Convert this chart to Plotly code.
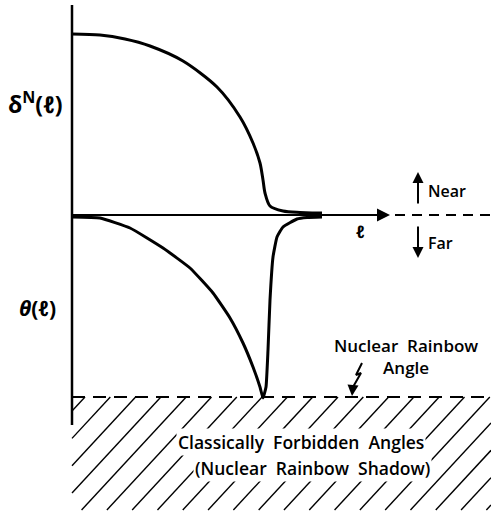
import plotly.graph_objects as go

# Nuclear phase shift delta^N(l) (upper half) and deflection angle theta(l)
# (lower half, drawn downward) against angular momentum l, in arbitrary units.
ell_delta = [0, 28, 53, 78, 111, 145, 168, 181, 188, 191, 193, 198, 211, 228, 240, 250]
delta_n   = [181, 180, 176, 169, 154, 128, 98, 72, 52, 35, 22, 9, 4, 2.5, 2, 2]

ell_theta = [0, 28, 58, 91, 118, 141, 158, 171, 181, 188, 191,
             194, 196, 198, 201, 205, 211, 225, 235, 250]
theta     = [-2, -3, -13, -33, -53, -78, -103, -128, -152, -172, -183,
             -172, -135, -85, -42, -22, -12, -4, -2.5, -2]

rainbow_angle = -182          # level of the nuclear rainbow angle
ell_axis_end = 318            # tip of the l-axis arrow
ell_max = 419
v_top, v_bottom = 210, -210   # extent of the vertical axis
hatch_bottom = -295
hatch_spacing = 25.3
hatch_first = 13              # l where the first hatch line meets the rainbow line
hatch_slope = 1.08

INK = "black"
FONT = "Open Sans"

fig = go.Figure()

# hatched "forbidden" region below the rainbow angle
hx, hy = [], []
height = rainbow_angle - hatch_bottom
k = -20
while True:
    x_top = hatch_first + k * hatch_spacing
    x_bot = x_top - height / hatch_slope
    if x_bot > ell_max:
        break
    x0, y0, x1, y1 = x_bot, hatch_bottom, x_top, rainbow_angle
    if x1 >= 0:
        if x0 < 0:
            y0 = y0 + (0 - x0) * hatch_slope
            x0 = 0
        if x1 > ell_max:
            y1 = y1 - (x1 - ell_max) * hatch_slope
            x1 = ell_max
        hx += [x0, x1, None]
        hy += [y0, y1, None]
    k += 1
fig.add_trace(go.Scatter(x=hx, y=hy, mode="lines",
                         line=dict(color=INK, width=1.4), hoverinfo="skip"))

# vertical axis
fig.add_trace(go.Scatter(x=[0, 0], y=[v_top, v_bottom], mode="lines",
                         line=dict(color=INK, width=2.5)))
# l axis, then dashed continuation
fig.add_trace(go.Scatter(x=[0, ell_axis_end - 8], y=[0, 0], mode="lines",
                         line=dict(color=INK, width=2.2)))
fig.add_trace(go.Scatter(x=[323, ell_max], y=[0, 0], mode="lines",
                         line=dict(color=INK, width=2, dash="10px,7px")))
# nuclear rainbow angle (dashed)
fig.add_trace(go.Scatter(x=[0, ell_max], y=[rainbow_angle, rainbow_angle], mode="lines",
                         line=dict(color=INK, width=2, dash="13px,8px")))

# curves
fig.add_trace(go.Scatter(x=ell_delta, y=delta_n, mode="lines",
                         line=dict(color=INK, width=3, shape="spline", smoothing=0.8)))
fig.add_trace(go.Scatter(x=ell_theta, y=theta, mode="lines",
                         line=dict(color=INK, width=3, shape="spline", smoothing=0.4)))

# lightning arrow pointing at the rainbow angle
fig.add_trace(go.Scatter(x=[290, 284, 289, 281], y=[-148, -160, -158, -172], mode="lines",
                         line=dict(color=INK, width=2)))

ann = []
def arrow(x, y, ax, ay, size=1.1):
    ann.append(dict(x=x, y=y, ax=ax, ay=ay, xref="x", yref="y", axref="x", ayref="y",
                    text="", showarrow=True, arrowhead=2, arrowsize=size,
                    arrowwidth=2, arrowcolor=INK))

arrow(ell_axis_end, 0, 290, 0, size=1.3)
arrow(280, -181, 281, -170)
arrow(346, 43, 346, 10)
arrow(346, -43, 346, -10)

def label(x, y, text, size=16, bg=None, xanchor="center", weight=600):
    d = dict(x=x, y=y, xref="x", yref="y", text=text, showarrow=False,
             xanchor=xanchor, yanchor="middle",
             font=dict(family=FONT, size=size, color=INK, weight=weight))
    if bg:
        d["bgcolor"] = bg
    ann.append(d)

label(-37, 112, "<b>δ<sup>N</sup>(<i>ℓ</i>)</b>", size=23, weight=700)
label(-35, -93, "<b><i>θ</i>(<i>ℓ</i>)</b>", size=21, weight=700)
label(288, -16, "<b><i>ℓ</i></b>", size=17, weight=700)
label(354, 24, "Near", xanchor="left")
label(354, -28, "Far", xanchor="left")
label(334, -141, "Nuclear  Rainbow<br>Angle", size=17)
label(229, -227, "Classically  Forbidden  Angles", size=17.5, bg="white")
label(240, -253, "(Nuclear  Rainbow  Shadow)", size=17.5, bg="white")

fig.update_layout(
    width=491, height=512,
    margin=dict(l=0, r=0, t=0, b=0),
    paper_bgcolor="white", plot_bgcolor="white",
    showlegend=False,
    annotations=ann,
    xaxis=dict(range=[-72, 419], visible=False, fixedrange=True),
    yaxis=dict(range=[-297, 215], visible=False, fixedrange=True),
)

fig.write_html("out.html")
